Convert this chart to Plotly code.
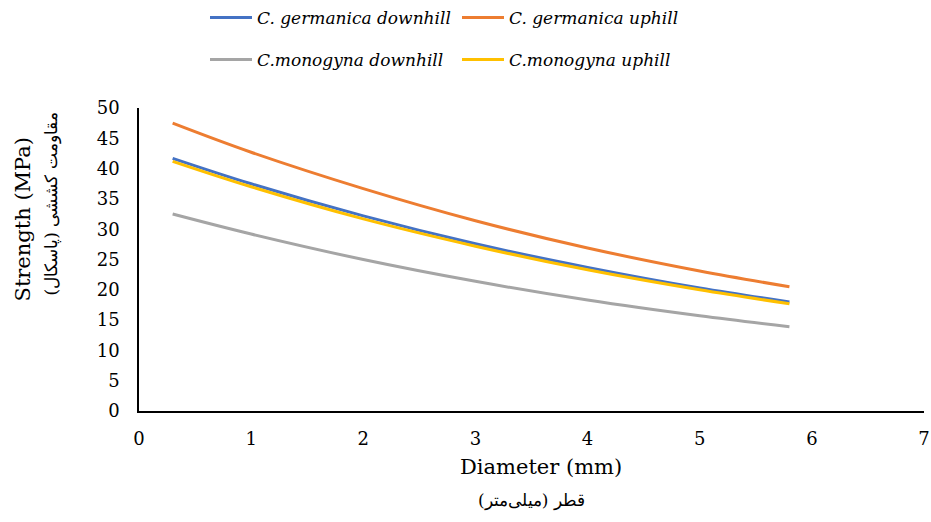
import plotly.graph_objects as go

diameter = [0.3, 1, 2, 3, 4, 5, 5.8]
germanica_down = [41.7, 37.5, 32.2, 27.6, 23.7, 20.3, 18.0]
germanica_up = [47.5, 42.7, 36.7, 31.4, 26.9, 23.1, 20.5]
monogyna_down = [32.5, 29.2, 25.0, 21.4, 18.3, 15.7, 13.9]
monogyna_up = [41.2, 37.0, 31.7, 27.2, 23.3, 20.0, 17.7]

series = [
    ("<i>C. germanica downhill</i>", germanica_down, "#4472C4", "legend"),
    ("<i>C. germanica uphill</i>", germanica_up, "#ED7D31", "legend"),
    ("<i>C.monogyna downhill</i>", monogyna_down, "#A5A5A5", "legend2"),
    ("<i>C.monogyna uphill</i>", monogyna_up, "#FFC000", "legend2"),
]

FONT = "DejaVu Serif"

fig = go.Figure()
for name, vals, color, lg in series:
    fig.add_trace(go.Scatter(
        x=diameter, y=vals, name=name, mode="lines",
        line=dict(color=color, width=3, shape="spline"),
        legend=lg,
    ))

legend_common = dict(
    orientation="h", xanchor="left", yanchor="middle",
    xref="container", yref="container",
    font=dict(family=FONT, size=17, color="#000"),
    entrywidth=195, entrywidthmode="pixels",
    bgcolor="rgba(0,0,0,0)", itemwidth=42,
)

fig.update_layout(
    width=931, height=522,
    margin=dict(l=139, r=7, t=108, b=111, autoexpand=False),
    paper_bgcolor="white", plot_bgcolor="white",
    font=dict(family=FONT, size=18, color="#000"),
    showlegend=True,
    legend=dict(x=205 / 931, y=1 - 18 / 522, **legend_common),
    legend2=dict(x=205 / 931, y=1 - 60 / 522, **legend_common),
    xaxis=dict(
        range=[0, 7], dtick=1, showgrid=False, zeroline=False,
        showline=True, linecolor="#000", linewidth=1.5,
        ticks="", ticklabelstandoff=11, automargin=False,
        tickfont=dict(family=FONT, size=18, color="#000"),
    ),
    yaxis=dict(
        range=[0, 50], dtick=5, showgrid=False, zeroline=False,
        showline=True, linecolor="#000", linewidth=1.5,
        ticks="", ticklabelstandoff=14, automargin=False,
        tickfont=dict(family=FONT, size=18, color="#000"),
    ),
    annotations=[
        dict(text="Strength (MPa)", xref="paper", yref="paper",
             x=0, y=0.5, xanchor="center", yanchor="middle",
             xshift=-117, yshift=40, textangle=-90, showarrow=False,
             font=dict(family=FONT, size=21, color="#000")),
        dict(text="مقاومت کششی (پاسکال)", xref="paper", yref="paper",
             x=0, y=0.5, xanchor="center", yanchor="middle",
             xshift=-88, yshift=55, textangle=-90, showarrow=False,
             font=dict(family=FONT, size=17, color="#000")),
        dict(text="Diameter (mm)", xref="paper", yref="paper",
             x=0.5, y=0, xanchor="center", yanchor="middle",
             xshift=9, yshift=-56, showarrow=False,
             font=dict(family=FONT, size=21, color="#000")),
        dict(text="قطر (میلی‌متر)", xref="paper", yref="paper",
             x=0.5, y=0, xanchor="center", yanchor="middle",
             xshift=0, yshift=-89, showarrow=False,
             font=dict(family=FONT, size=17, color="#000")),
    ],
)

fig.write_html("out.html")
